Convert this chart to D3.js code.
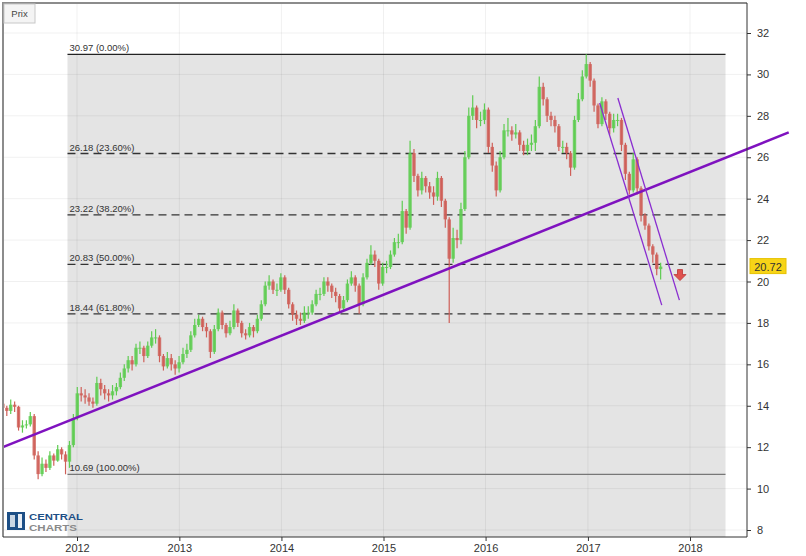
<!DOCTYPE html>
<html>
<head>
<meta charset="utf-8">
<script src="https://cdn.jsdelivr.net/npm/d3@7"></script>
<style>
  body { margin: 0; background: #fff; }
  svg { display: block; font-family: "Liberation Sans", Arial, sans-serif; }
</style>
</head>
<body>
<div id="chart"></div>
<script>
// bi-weekly candles, first one on 2011-04-11
const firstDate = new Date(2011, 3, 11);
const closes = [13.9, 13.75, 14.05, 13.95, 12.95, 13.05, 13.1, 13.5, 11.6, 10.7,
  11.2, 11.0, 11.6, 11.35, 11.9, 11.65, 11.3, 12.1, 13.4, 14.6,
  14.5, 14.4, 14.2, 14.1, 15.1, 14.8, 14.6, 14.5, 14.7, 14.9,
  15.35, 15.8, 16.2, 16.0, 16.8, 16.8, 16.4, 16.9, 17.3, 17.3,
  16.4, 15.9, 16.3, 16.0, 15.8, 16.1, 16.5, 16.7, 17.4, 17.9,
  18.2, 17.8, 17.6, 16.6, 17.7, 18.5, 17.9, 17.5, 17.8, 18.6,
  18.0, 17.5, 17.4, 17.8, 17.6, 18.2, 18.9, 19.8, 20.0, 19.6,
  19.6, 20.2, 19.6, 18.9, 18.4, 18.2, 18.1, 18.5, 18.5, 18.9,
  19.4, 19.4, 20.0, 19.8, 19.5, 19.3, 18.7, 19.1, 19.9, 20.2,
  19.8, 18.9, 20.2, 20.9, 21.3, 21.0, 19.9, 20.7, 20.7, 21.3,
  21.9, 21.9, 23.4, 22.6, 26.2, 25.1, 24.4, 25.0, 24.6, 24.3,
  24.1, 25.0, 23.9, 23.0, 21.1, 22.1, 22.0, 23.5, 26.0, 28.0,
  28.4, 27.8, 27.8, 28.3, 26.5, 25.6, 24.4, 26.0, 27.3, 27.3,
  27.1, 27.2, 26.6, 26.3, 26.6, 26.7, 27.5, 29.4, 28.8, 28.0,
  27.8, 27.5, 26.5, 26.5, 26.2, 25.5, 27.8, 28.8, 29.9, 30.5,
  29.7, 28.5, 27.6, 28.7, 28.1, 27.4, 27.8, 27.8, 26.6, 25.2,
  24.4, 25.9, 24.5, 23.2, 22.7, 21.7, 21.3, 20.6, 20.72];
const highs = [14.3, 14.0, 14.3, 14.2, 14.0, 13.3, 13.3, 13.7, 13.6, 11.8,
  11.5, 11.4, 11.8, 11.7, 12.1, 12.0, 11.8, 12.3, 13.6, 14.9,
  14.9, 14.8, 14.6, 14.4, 15.4, 15.3, 15.0, 14.8, 15.0, 15.1,
  15.6, 16.0, 16.4, 16.4, 17.0, 17.1, 16.9, 17.1, 17.6, 17.7,
  17.4, 16.5, 16.6, 16.5, 16.2, 16.4, 16.8, 17.0, 17.6, 18.2,
  18.4, 18.3, 18.0, 17.7, 17.9, 18.7, 18.6, 18.0, 18.1, 18.9,
  18.7, 18.1, 17.7, 18.0, 17.9, 18.4, 19.1, 20.0, 20.3, 20.1,
  19.9, 20.4, 20.3, 19.7, 19.0, 18.6, 18.5, 18.8, 18.8, 19.1,
  19.6, 19.7, 20.2, 20.2, 19.9, 19.7, 19.4, 19.3, 20.1, 20.5,
  20.3, 19.9, 20.4, 21.1, 21.75, 21.5, 21.1, 20.9, 21.0, 21.5,
  22.1, 22.3, 23.9, 23.5, 26.8, 26.4, 25.2, 25.3, 25.1, 24.8,
  24.6, 25.3, 25.1, 24.0, 23.1, 22.6, 22.5, 23.8, 26.3, 28.4,
  29.0, 28.5, 28.2, 28.6, 28.4, 26.7, 25.8, 26.3, 27.6, 27.9,
  27.5, 27.6, 27.3, 26.8, 26.9, 27.1, 27.8, 29.9, 29.6, 28.9,
  28.2, 28.0, 27.6, 26.8, 26.7, 26.3, 28.0, 29.1, 30.2, 30.97,
  30.6, 29.8, 28.6, 28.9, 28.8, 28.2, 28.1, 28.1, 27.9, 26.7,
  25.3, 26.2, 26.0, 24.6, 23.3, 22.8, 21.8, 21.4, 20.9];
const lows = [13.8, 13.5, 13.6, 13.7, 12.8, 12.7, 12.9, 13.0, 11.4, 10.45,
  10.6, 10.8, 10.9, 11.1, 11.3, 11.4, 10.69, 11.0, 12.0, 13.3,
  14.2, 14.1, 14.0, 13.9, 14.0, 14.5, 14.3, 14.2, 14.3, 14.5,
  14.8, 15.2, 15.6, 15.7, 15.9, 16.5, 16.1, 16.3, 16.8, 17.0,
  16.1, 15.7, 15.8, 15.7, 15.5, 15.6, 16.0, 16.3, 16.6, 17.3,
  17.8, 17.6, 17.3, 16.3, 16.5, 17.6, 17.7, 17.3, 17.4, 17.7,
  17.8, 17.3, 17.2, 17.3, 17.3, 17.5, 18.1, 18.8, 19.6, 19.4,
  19.3, 19.5, 19.4, 18.7, 18.1, 17.9, 17.9, 18.0, 18.2, 18.4,
  18.8, 19.1, 19.3, 19.5, 19.2, 19.0, 18.5, 18.6, 19.0, 19.8,
  19.5, 18.44, 18.8, 20.1, 20.8, 20.7, 19.6, 19.8, 20.4, 20.6,
  21.2, 21.6, 21.8, 22.3, 22.5, 24.8, 24.1, 24.2, 24.3, 24.0,
  23.7, 23.9, 23.6, 22.6, 18.0, 20.9, 21.6, 21.8, 23.4, 25.9,
  27.8, 27.4, 27.5, 27.6, 26.2, 25.3, 24.1, 24.3, 25.9, 27.0,
  26.8, 26.9, 26.3, 26.1, 26.1, 26.3, 26.3, 27.4, 28.5, 27.7,
  27.5, 27.2, 26.3, 26.2, 25.9, 25.1, 25.4, 27.7, 28.7, 29.8,
  29.4, 28.2, 27.4, 27.5, 27.8, 27.1, 27.2, 27.5, 26.3, 24.9,
  24.2, 24.3, 24.2, 22.9, 22.5, 21.5, 20.9, 20.3, 20.1];

// Fibonacci retracement
const fibValues = [30.97, 26.18, 23.22, 20.83, 18.44, 10.69];
const fibPercents = ["0.00%", "23.60%", "38.20%", "50.00%", "61.80%", "100.00%"];
const fibStart = new Date(2011, 10, 28);
const fibEnd = new Date(2018, 4, 8);

// support line and falling channel: [date, price]
const trendLine = [[new Date(2011, 3, 11), 12.0], [new Date(2018, 11, 20), 27.2]];
const channelLow = [[new Date(2017, 1, 12), 28.62], [new Date(2017, 8, 22), 18.86]];
const channelHigh = [[new Date(2017, 3, 18), 28.86], [new Date(2017, 10, 24), 19.1]];

const yTicks = [8, 10, 12, 14, 16, 18, 20, 22, 24, 26, 28, 30, 32];
const xTicks = [2012, 2013, 2014, 2015, 2016, 2017, 2018];
const lastPrice = 20.72;

const width = 806, height = 556;
const pLeft = 3, pRight = 747, pTop = 3, pBottom = 537;

const candles = closes.map((c, i) => ({
  date: d3.timeDay.offset(firstDate, i * 14),
  open: i === 0 ? 14.1 : closes[i - 1],
  close: c,
  high: highs[i],
  low: lows[i]
}));

const x = d3.scaleTime()
  .domain([new Date(2012, 0, 1), new Date(2018, 0, 1)])
  .range([77, 690]);
const y = d3.scaleLinear().domain([8, 32]).range([530, 33]);

const svg = d3.select("#chart").append("svg")
  .attr("width", width)
  .attr("height", height);

const plot = svg.append("g");
plot.append("clipPath").attr("id", "clip")
  .append("rect").attr("x", pLeft).attr("y", pTop)
  .attr("width", pRight - pLeft).attr("height", pBottom - pTop);

// gray zone of the retracement
plot.append("rect")
  .attr("x", x(fibStart)).attr("y", y(fibValues[0]))
  .attr("width", x(fibEnd) - x(fibStart))
  .attr("height", pBottom - y(fibValues[0]))
  .attr("fill", "#e4e4e4");

// grid
plot.selectAll(".hgrid").data(yTicks).join("line")
  .attr("x1", pLeft).attr("x2", pRight)
  .attr("y1", d => y(d)).attr("y2", d => y(d))
  .attr("stroke", "#000").attr("stroke-opacity", 0.06);
plot.selectAll(".vgrid").data(xTicks).join("line")
  .attr("x1", d => x(new Date(d, 0, 1))).attr("x2", d => x(new Date(d, 0, 1)))
  .attr("y1", pTop).attr("y2", pBottom)
  .attr("stroke", "#000").attr("stroke-opacity", 0.06);

// fib lines
fibValues.forEach((v, i) => {
  const solid = i === 0 || i === fibValues.length - 1;
  plot.append("line")
    .attr("x1", x(fibStart)).attr("x2", x(fibEnd))
    .attr("y1", y(v)).attr("y2", y(v))
    .attr("stroke", i === 0 ? "#222" : (solid ? "#777" : "#333"))
    .attr("stroke-width", solid ? 1.2 : 1.3)
    .attr("stroke-dasharray", solid ? null : "8,5");
  plot.append("text")
    .attr("x", x(fibStart) + 2).attr("y", y(v) - 3)
    .attr("font-size", 9.5).attr("fill", "#333")
    .text(v.toFixed(2) + " (" + fibPercents[i] + ")");
});

// candles
const cg = plot.append("g").attr("clip-path", "url(#clip)");
const up = "#5fcc52", down = "#cf5f58";
cg.selectAll(".wick").data(candles).join("line")
  .attr("x1", d => x(d.date)).attr("x2", d => x(d.date))
  .attr("y1", d => y(d.high)).attr("y2", d => y(d.low))
  .attr("stroke", d => d.close >= d.open ? up : down)
  .attr("stroke-width", 1.2);
cg.selectAll(".body").data(candles).join("rect")
  .attr("x", d => x(d.date) - 1.7)
  .attr("width", 3.4)
  .attr("y", d => y(Math.max(d.open, d.close)))
  .attr("height", d => Math.max(1, Math.abs(y(d.open) - y(d.close))))
  .attr("fill", d => d.close >= d.open ? up : down)
  .attr("fill-opacity", 0.85);

// trend lines
const line = d3.line().x(d => x(d[0])).y(d => y(d[1]));
svg.append("path").datum(trendLine)
  .attr("d", line).attr("fill", "none")
  .attr("stroke", "#7f12bf").attr("stroke-width", 2.6);
[channelLow, channelHigh].forEach(c => {
  svg.append("path").datum(c)
    .attr("d", line).attr("fill", "none")
    .attr("stroke", "#8a2ed0").attr("stroke-width", 1.3);
});

// red arrow after last candle
const ax = 680, ay = y(lastPrice) + 8;
svg.append("path")
  .attr("d", `M${ax - 2.5},${ay - 5} h5 v5 h3.5 l-6,6 l-6,-6 h3.5 z`)
  .attr("fill", "#e0524f").attr("stroke", "#b33").attr("stroke-width", 0.8);

// frame
svg.append("path")
  .attr("d", `M${pLeft},${pBottom} V${pTop} H${pRight}`)
  .attr("fill", "none").attr("stroke", "#8c8c8c").attr("stroke-width", 2);

// y axis
const yAxis = svg.append("g").attr("transform", `translate(${pRight},0)`)
  .call(d3.axisRight(y).tickValues(yTicks).tickSize(4).tickPadding(6));
yAxis.select(".domain").attr("d", `M0,${pTop}V${pBottom}`).attr("stroke", "#333");
yAxis.selectAll("text").attr("font-size", 11).attr("fill", "#333")
  .attr("font-family", "Liberation Sans, Arial, sans-serif");
yAxis.selectAll(".tick line").attr("stroke", "#333");

// x axis
const xAxis = svg.append("g").attr("transform", `translate(0,${pBottom})`)
  .call(d3.axisBottom(x).tickValues(xTicks.map(d => new Date(d, 0, 1)))
    .tickFormat(d3.timeFormat("%Y")).tickSize(4).tickPadding(3));
xAxis.select(".domain").attr("d", `M${pLeft},0H${pRight}`).attr("stroke", "#333");
xAxis.selectAll("text").attr("font-size", 11).attr("fill", "#333")
  .attr("font-family", "Liberation Sans, Arial, sans-serif");
xAxis.selectAll(".tick line").attr("stroke", "#333");

// last price label
svg.append("rect")
  .attr("x", 750).attr("y", y(lastPrice) - 8)
  .attr("width", 36).attr("height", 15)
  .attr("fill", "#f7d417").attr("stroke", "#e6c200");
svg.append("text")
  .attr("x", 768).attr("y", y(lastPrice) + 4)
  .attr("text-anchor", "middle").attr("font-size", 11).attr("fill", "#333")
  .text(lastPrice.toFixed(2));

// "Prix" button
svg.append("rect").attr("x", 4).attr("y", 4).attr("width", 31).attr("height", 19)
  .attr("fill", "#f4f4f4").attr("stroke", "#c8c8c8");
svg.append("text").attr("x", 19.5).attr("y", 17).attr("text-anchor", "middle")
  .attr("font-size", 9.5).attr("fill", "#444").text("Prix");

// logo
const logo = svg.append("g").attr("transform", "translate(7,512)");
logo.append("rect").attr("width", 18).attr("height", 18).attr("fill", "#1d4f86");
logo.append("rect").attr("x", 3).attr("y", 3).attr("width", 5).attr("height", 12).attr("fill", "#c9d6e4");
logo.append("rect").attr("x", 11).attr("y", 2).attr("width", 4).attr("height", 14).attr("fill", "#e8eef5");
logo.append("text").attr("x", 22).attr("y", 8).attr("font-size", 9)
  .attr("textLength", 54).attr("lengthAdjust", "spacingAndGlyphs")
  .attr("font-weight", "bold").attr("fill", "#1d4f86").text("CENTRAL");
logo.append("text").attr("x", 22).attr("y", 18.5).attr("font-size", 9)
  .attr("textLength", 48).attr("lengthAdjust", "spacingAndGlyphs")
  .attr("font-weight", "bold").attr("fill", "#8a8a8a").text("CHARTS");
</script>
</body>
</html>
